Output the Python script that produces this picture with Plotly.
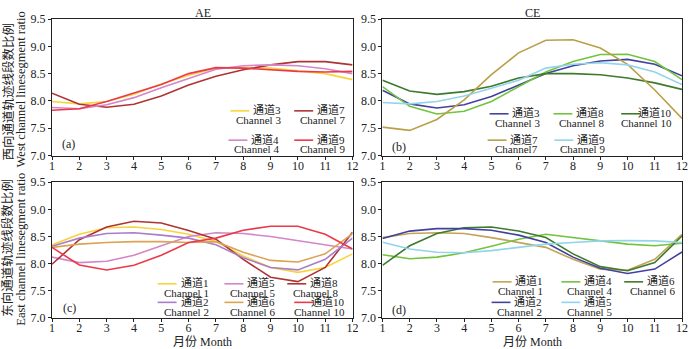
import plotly.graph_objects as go

months = list(range(1, 13))

# ---- data ----
a_ch3 = [7.99, 7.945, 7.99, 8.12, 8.31, 8.47, 8.60, 8.61, 8.60, 8.55, 8.50, 8.39]
a_ch7 = [8.14, 7.94, 7.885, 7.94, 8.09, 8.29, 8.45, 8.57, 8.66, 8.72, 8.72, 8.66]
a_ch4 = [7.88, 7.855, 7.93, 8.06, 8.24, 8.41, 8.58, 8.645, 8.66, 8.645, 8.59, 8.50]
a_ch9 = [7.83, 7.855, 7.99, 8.14, 8.30, 8.50, 8.61, 8.60, 8.57, 8.54, 8.53, 8.54]

b_ch3 = [8.196, 7.945, 7.87, 7.93, 8.08, 8.29, 8.50, 8.645, 8.73, 8.76, 8.67, 8.46]
b_ch8 = [8.26, 7.90, 7.76, 7.81, 7.99, 8.26, 8.53, 8.72, 8.85, 8.855, 8.72, 8.39]
b_ch10 = [8.38, 8.18, 8.12, 8.17, 8.27, 8.42, 8.50, 8.50, 8.48, 8.42, 8.33, 8.21]
b_ch7 = [7.52, 7.46, 7.66, 8.02, 8.48, 8.88, 9.11, 9.12, 8.97, 8.67, 8.20, 7.68]
b_ch9 = [7.97, 7.945, 7.99, 8.09, 8.23, 8.38, 8.60, 8.67, 8.70, 8.66, 8.53, 8.30]

c_ch1 = [8.345, 8.54, 8.66, 8.675, 8.63, 8.54, 8.41, 8.14, 7.93, 7.84, 7.93, 8.18]
c_ch5 = [8.12, 8.02, 8.045, 8.155, 8.33, 8.50, 8.57, 8.555, 8.50, 8.42, 8.35, 8.27]
c_ch8 = [7.99, 8.44, 8.675, 8.78, 8.75, 8.61, 8.45, 8.08, 7.75, 7.67, 7.93, 8.58]
c_ch2 = [8.32, 8.47, 8.555, 8.57, 8.525, 8.47, 8.35, 8.11, 7.93, 7.885, 8.08, 8.47]
c_ch6 = [8.30, 8.36, 8.39, 8.405, 8.405, 8.39, 8.405, 8.21, 8.06, 8.03, 8.18, 8.555]
c_ch10 = [8.30, 7.975, 7.885, 7.97, 8.155, 8.39, 8.47, 8.615, 8.69, 8.69, 8.54, 8.27]

d_ch1 = [8.48, 8.555, 8.57, 8.555, 8.48, 8.39, 8.30, 8.08, 7.90, 7.88, 8.08, 8.54]
d_ch4 = [8.165, 8.09, 8.12, 8.20, 8.32, 8.45, 8.54, 8.48, 8.41, 8.36, 8.33, 8.375]
d_ch6 = [7.97, 8.33, 8.555, 8.66, 8.675, 8.60, 8.48, 8.18, 7.945, 7.87, 8.02, 8.51]
d_ch2 = [8.465, 8.60, 8.645, 8.645, 8.615, 8.525, 8.39, 8.12, 7.915, 7.82, 7.90, 8.215]
d_ch5 = [8.395, 8.27, 8.21, 8.20, 8.24, 8.30, 8.36, 8.39, 8.42, 8.425, 8.42, 8.39]

panel_titles = ["AE", "CE"]
panel_labels = ["(a)", "(b)", "(c)", "(d)"]
ytitles_cn = ["西向通道轨迹线段数比例", "东向通道轨迹线段数比例"]
ytitles_en = ["West channel linesegment ratio", "East channel linesegment ratio"]
xtitle = "月份 Month"

# ---- style ----
YELLOW = "#F8D43C"
DKRED = "#AE3434"
ORCHID = "#D486C8"
RED = "#EA3A4A"
NAVY = "#42429E"
LTGREEN = "#72C43E"
DKGREEN = "#3D7A2C"
OLIVE = "#B9A048"
LTBLUE = "#92D4EC"
PURPLE = "#A97DC9"
TAN = "#DBA352"
TAN2 = "#C2A458"

# each series: (panel index, values, cn label, en label, colour, legend x_right px, legend row y px)
series = [
    (0, a_ch3, "通道3", "Channel 3", YELLOW, 283, 105),
    (0, a_ch7, "通道7", "Channel 7", DKRED, 347, 105),
    (0, a_ch4, "通道4", "Channel 4", ORCHID, 281, 135),
    (0, a_ch9, "通道9", "Channel 9", RED, 347, 135),
    (1, b_ch3, "通道3", "Channel 3", NAVY, 543, 108),
    (1, b_ch8, "通道8", "Channel 8", LTGREEN, 607, 108),
    (1, b_ch10, "通道10", "Channel 10", DKGREEN, 675, 108),
    (1, b_ch7, "通道7", "Channel7", OLIVE, 541, 135),
    (1, b_ch9, "通道9", "Channel 9", LTBLUE, 608, 135),
    (2, c_ch1, "通道1", "Channel 1", YELLOW, 210, 282),
    (2, c_ch5, "通道5", "Channel 5", ORCHID, 277, 282),
    (2, c_ch8, "通道8", "Channel 8", DKRED, 340, 282),
    (2, c_ch2, "通道2", "Channel 2", PURPLE, 210, 301),
    (2, c_ch6, "通道6", "Channel 6", TAN, 277, 301),
    (2, c_ch10, "通道10", "Channel 10", RED, 347, 301),
    (3, d_ch1, "通道1", "Channel 1", TAN2, 546, 280),
    (3, d_ch4, "通道4", "Channel 4", LTGREEN, 615, 280),
    (3, d_ch6, "通道6", "Channel 6", DKGREEN, 678, 280),
    (3, d_ch2, "通道2", "Channel 2", NAVY, 545, 301),
    (3, d_ch5, "通道5", "Channel 5", LTBLUE, 615, 301),
]

FONT = "Liberation Serif, Times New Roman, Noto Sans CJK SC, serif"
TXT = "#222"
W, H = 700, 349
L, R, T, B = 52, 16, 12, 31
PW, PH = W - L - R, H - T - B


def px(xp):
    return (xp - L) / PW


def py(yp):
    return 1 - (yp - T) / PH


xdom = [[0, px(353.5)], [px(383.5), 1]]
ydom = [[py(151.7), 1], [0, py(179)]]

fig = go.Figure()
axis_names = [("x", "y"), ("x2", "y2"), ("x3", "y3"), ("x4", "y4")]

for (p, vals, cn, en, col, xr, yr) in series:
    xa, ya = axis_names[p]
    fig.add_trace(go.Scatter(x=months, y=vals, mode="lines",
                             line=dict(color=col, width=1.6),
                             xaxis=xa, yaxis=ya, showlegend=False,
                             name=cn + " " + en))

annotations = []
shapes = []
for (p, vals, cn, en, col, xr, yr) in series:
    shapes.append(dict(type="line", xref="paper", yref="paper",
                       x0=px(xr - 52), x1=px(xr - 33), y0=py(yr + 1), y1=py(yr + 1),
                       line=dict(color=col, width=1.6)))
    annotations.append(dict(text=cn, xref="paper", yref="paper", x=px(xr), y=py(yr),
                            xanchor="right", yanchor="middle", showarrow=False, borderpad=0,
                            font=dict(family=FONT, size=11, color=TXT)))
    annotations.append(dict(text=en, xref="paper", yref="paper", x=px(xr), y=py(yr + 10.5),
                            xanchor="right", yanchor="middle", showarrow=False, borderpad=0,
                            font=dict(family=FONT, size=11, color=TXT)))

label_pos = [(60, 140), (391, 143), (61, 308), (391, 310)]
for i in range(4):
    annotations.append(dict(text=panel_labels[i], xref="paper", yref="paper",
                            x=px(label_pos[i][0]), y=py(label_pos[i][1]),
                            xanchor="left", yanchor="middle", showarrow=False,
                            font=dict(family=FONT, size=12, color=TXT)))
for i, xc in enumerate([203, 534]):
    annotations.append(dict(text=panel_titles[i], xref="paper", yref="paper",
                            x=px(xc), y=py(6), xanchor="center", yanchor="middle",
                            showarrow=False, borderpad=0,
                            font=dict(family=FONT, size=12, color=TXT)))
for i, yc in enumerate([86, 246]):
    annotations.append(dict(text=ytitles_cn[i], xref="paper", yref="paper",
                            x=px(8), y=py(yc), xanchor="center", yanchor="middle",
                            textangle=-90, showarrow=False, borderpad=0,
                            font=dict(family=FONT, size=12.5, color=TXT)))
for i, yc in enumerate([84, 248]):
    annotations.append(dict(text=ytitles_en[i], xref="paper", yref="paper",
                            x=px(21), y=py(yc), xanchor="center", yanchor="middle",
                            textangle=-90, showarrow=False, borderpad=0,
                            font=dict(family=FONT, size=12.5, color=TXT)))
for xc in [203, 534]:
    annotations.append(dict(text=xtitle, xref="paper", yref="paper",
                            x=px(xc), y=py(343), xanchor="center", yanchor="middle",
                            showarrow=False, borderpad=0,
                            font=dict(family=FONT, size=12, color=TXT)))

layout = dict(width=W, height=H, margin=dict(l=L, r=R, t=T, b=B),
              paper_bgcolor="white", plot_bgcolor="white",
              font=dict(family=FONT, size=12, color=TXT),
              annotations=annotations, shapes=shapes, showlegend=False)

for i in range(4):
    col = i % 2
    row = i // 2
    xk = "xaxis" if i == 0 else "xaxis%d" % (i + 1)
    yk = "yaxis" if i == 0 else "yaxis%d" % (i + 1)
    layout[xk] = dict(domain=xdom[col], range=[1, 12], dtick=1, tick0=1,
                      anchor=axis_names[i][1], showline=True, mirror=True,
                      linecolor=TXT, linewidth=1, ticks="outside", ticklen=3,
                      tickcolor=TXT, showgrid=False, zeroline=False,
                      ticklabelstandoff=-4,
                      tickfont=dict(family=FONT, size=12))
    layout[yk] = dict(domain=ydom[row], range=[7, 9.5], dtick=0.5, tick0=7,
                      tickformat=".1f", anchor=axis_names[i][0], showline=True,
                      mirror=True, linecolor=TXT, linewidth=1, ticks="outside",
                      ticklen=3, tickcolor=TXT, showgrid=False, zeroline=False,
                      tickfont=dict(family=FONT, size=12))

fig.update_layout(**layout)
fig.write_html("out.html", config={"displayModeBar": False},
               post_script="document.body.style.margin='0px';document.body.style.overflow='hidden';")
